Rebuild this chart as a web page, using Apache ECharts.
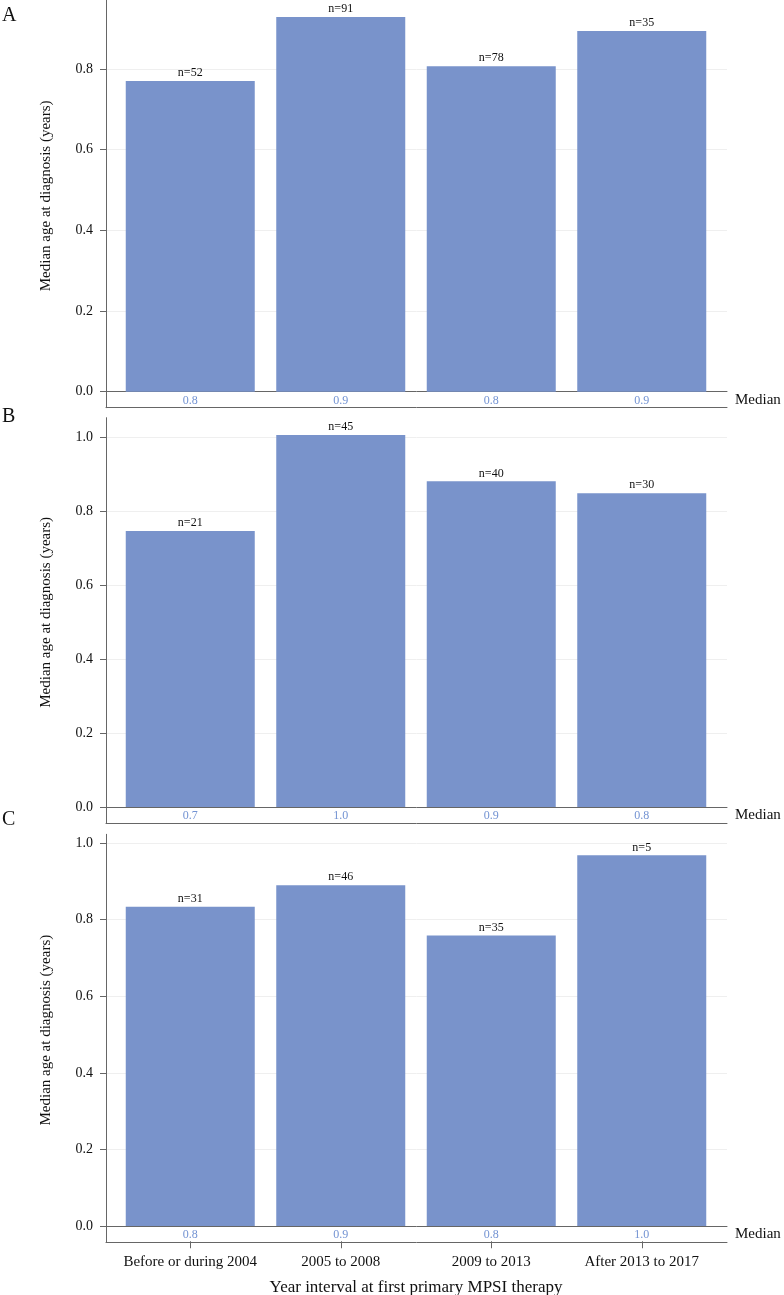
<!DOCTYPE html>
<html><head><meta charset="utf-8">
<script src="https://cdn.jsdelivr.net/npm/echarts@6/dist/echarts.min.js"></script>
<style>html,body{margin:0;padding:0;background:#fff}#c{width:784px;height:1295px}</style>
</head><body><div id="c"></div>
<script>
const categories = ['Before or during 2004', '2005 to 2008', '2009 to 2013', 'After 2013 to 2017'];
const valuesA = [0.770, 0.929, 0.807, 0.894];
const valuesB = [0.746, 1.005, 0.880, 0.848];
const valuesC = [0.834, 0.890, 0.759, 0.968];
const nA = [52, 91, 78, 35];
const nB = [21, 45, 40, 30];
const nC = [31, 46, 35, 5];
const medianA = ['0.8', '0.9', '0.8', '0.9'];
const medianB = ['0.7', '1.0', '0.9', '0.8'];
const medianC = ['0.8', '0.9', '0.8', '1.0'];
const yTicksA = [0, 0.2, 0.4, 0.6, 0.8];
const yTicksB = [0, 0.2, 0.4, 0.6, 0.8, 1.0];
const yTicksC = [0, 0.2, 0.4, 0.6, 0.8, 1.0];
const yTitle = 'Median age at diagnosis (years)';
const xTitle = 'Year interval at first primary MPSI therapy';
const medianRowLabel = 'Median';

const FONT = '"Liberation Serif", "DejaVu Serif", serif';
const BAR = '#7993CB';
const MED = '#7393D3';
const AX = '#666666';

const panels = [
  {letter: 'A', values: valuesA, n: nA, median: medianA, ticks: yTicksA, max: 0.971, top: 0, zero: 391.7, letterY: 16},
  {letter: 'B', values: valuesB, n: nB, median: medianB, ticks: yTicksB, max: 1.052, top: 417.7, zero: 807, letterY: 417},
  {letter: 'C', values: valuesC, n: nC, median: medianC, ticks: yTicksC, max: 1.023, top: 834.3, zero: 1226, letterY: 820}
];

const grid = [], xAxis = [], yAxis = [], series = [], graphic = [];
const L0 = 106, W0 = 621, L1 = 115, W1 = 602, MEDH = 16;

panels.forEach((p, i) => {
  const h = p.zero - p.top;
  grid.push({left: L0, width: W0, top: p.top, height: h});
  xAxis.push({gridIndex: 3*i, type: 'category', data: categories,
    axisLine: {show: true, lineStyle: {color: AX, width: 1}}, axisTick: {show: false}, axisLabel: {show: false}, splitLine: {show: false}});
  yAxis.push({gridIndex: 3*i, type: 'value', min: 0, max: p.max, interval: 0.2,
    axisLine: {show: true, lineStyle: {color: AX, width: 1}},
    axisTick: {show: true, length: 6, lineStyle: {color: AX}, customValues: p.ticks},
    axisLabel: {customValues: p.ticks, formatter: v => Number(v).toFixed(1), margin: 13, fontSize: 14, fontFamily: FONT, color: '#111'},
    splitLine: {show: true, lineStyle: {color: '#efefef', width: 1}},
    name: yTitle, nameLocation: 'middle', nameGap: 52, nameRotate: 90,
    nameTextStyle: {fontSize: 15, fontFamily: FONT, color: '#111'}});
  grid.push({left: L1, width: W1, top: p.top, height: h});
  xAxis.push({gridIndex: 3*i+1, type: 'category', data: categories,
    axisLine: {show: false}, axisTick: {show: false}, splitLine: {show: false},
    axisLabel: {show: true, interval: 0, margin: 3, fontSize: 12, fontFamily: FONT, color: MED,
      formatter: (v, idx) => p.median[idx]}});
  yAxis.push({gridIndex: 3*i+1, type: 'value', min: 0, max: p.max, show: false});
  series.push({type: 'bar', xAxisIndex: 3*i+1, yAxisIndex: 3*i+1, data: p.values, barWidth: 129,
    itemStyle: {color: BAR}, silent: true,
    label: {show: true, position: 'top', distance: 2, fontSize: 12, fontFamily: FONT, color: '#111',
      formatter: q => 'n=' + p.n[q.dataIndex]}});
  grid.push({left: L0, width: W0, top: p.zero, height: MEDH});
  xAxis.push({gridIndex: 3*i+2, type: 'category', data: [''],
    axisLine: {show: true, lineStyle: {color: AX, width: 1}}, axisTick: {show: false}, axisLabel: {show: false}});
  yAxis.push({gridIndex: 3*i+2, type: 'value', min: 0, max: 1,
    axisLine: {show: true, lineStyle: {color: AX, width: 1}}, axisTick: {show: false}, axisLabel: {show: false}, splitLine: {show: false}});
  graphic.push({type: 'text', x: 2, y: p.letterY, style: {text: p.letter, fontSize: 20, fontFamily: FONT, fill: '#111', verticalAlign: 'middle', align: 'left'}});
  graphic.push({type: 'text', x: 735, y: p.zero + 8.5, style: {text: medianRowLabel, fontSize: 15, fontFamily: FONT, fill: '#111', verticalAlign: 'middle', align: 'left'}});
});

const cz = panels[2].zero + MEDH;
grid.push({left: L1, width: W1, top: cz - 1, height: 1});
xAxis.push({gridIndex: 9, type: 'category', data: categories,
  axisLine: {show: false},
  axisTick: {show: true, alignWithLabel: true, length: 7, lineStyle: {color: AX}},
  axisLabel: {interval: 0, margin: 13, fontSize: 15, fontFamily: FONT, color: '#111'},
  name: xTitle, nameLocation: 'middle', nameGap: 38,
  nameTextStyle: {fontSize: 17, fontFamily: FONT, color: '#111'}});
yAxis.push({gridIndex: 9, type: 'value', show: false, min: 0, max: 1});

const chart = echarts.init(document.getElementById('c'), null, {renderer: 'canvas'});
chart.setOption({animation: false, grid, xAxis, yAxis, series, graphic});
</script>
</body></html>
